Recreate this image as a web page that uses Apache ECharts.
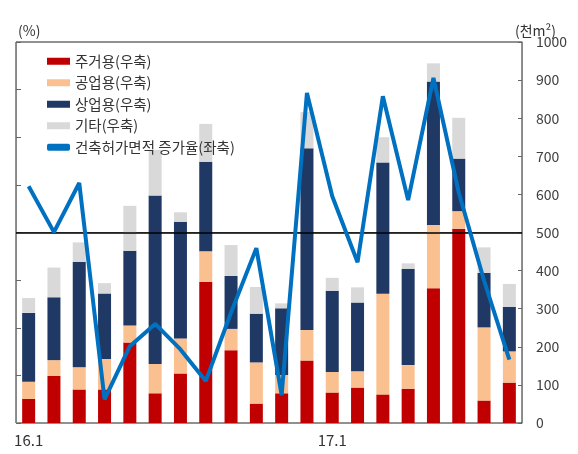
<!DOCTYPE html>
<html>
<head>
<meta charset="utf-8">
<script src="https://cdn.jsdelivr.net/npm/echarts@6/dist/echarts.min.js"></script>
<style>
  html, body { margin: 0; padding: 0; background: #fff; }
  #chart { width: 578px; height: 454px; }
</style>
</head>
<body>
<div id="chart"></div>
<script>
// 월별 데이터 (16.1 ~ 17.8)
var months = ['16.1','16.2','16.3','16.4','16.5','16.6','16.7','16.8','16.9','16.10','16.11','16.12',
              '17.1','17.2','17.3','17.4','17.5','17.6','17.7','17.8'];
// 용도별 건축허가면적 (천m², 우축)
var housing    = [63, 124, 88, 88, 211, 78, 130, 370, 191, 51, 78, 164, 80, 93, 75, 90, 354, 510, 59, 106];
var industrial = [45, 41, 58, 80, 45, 77, 92, 81, 56, 108, 48, 80, 54, 43, 264, 62, 166, 46, 192, 82];
var commercial = [181, 165, 277, 172, 196, 442, 306, 235, 139, 128, 175, 477, 213, 180, 345, 253, 376, 138, 143, 117];
var others     = [39, 78, 51, 27, 118, 120, 25, 99, 81, 70, 13, 95, 34, 40, 66, 14, 48, 107, 67, 60];
// 건축허가면적 증가율 (%, 좌축)
var growth = [24.3, 0.2, 26, -87.6, -59.7, -48, -61.4, -78, -42, -8.2, -85.4, 73.3,
              19, -15.6, 71.5, 17, 81.2, 21, -25.2, -66.7];

var font = 'Noto Sans CJK KR';
var chart = echarts.init(document.getElementById('chart'));

function barSeries(name, data, color) {
    return {
        name: name,
        type: 'bar',
        stack: 'area',
        yAxisIndex: 1,
        barWidth: 13,
        itemStyle: { color: color },
        data: data
    };
}

chart.setOption({
    animation: false,
    textStyle: { fontFamily: font },
    grid: {
        left: 16, right: 56, top: 42, bottom: 31,
        show: true, borderColor: '#222', borderWidth: 1
    },
    title: [
        { text: '(%)', left: 13, top: 19, textStyle: { fontSize: 14, fontWeight: 'normal', color: '#333', fontFamily: font } },
        { text: '(천m²)', left: 510, top: 19, textStyle: { fontSize: 14, fontWeight: 'normal', color: '#333', fontFamily: font } }
    ],
    legend: {
        orient: 'vertical',
        left: 47,
        top: 54,
        padding: 0,
        itemWidth: 23,
        itemHeight: 7,
        itemGap: 7,
        textStyle: { fontSize: 14.5, color: '#333', fontFamily: font },
        data: [
            { name: '주거용(우축)', icon: 'rect' },
            { name: '공업용(우축)', icon: 'rect' },
            { name: '상업용(우축)', icon: 'rect' },
            { name: '기타(우축)', icon: 'rect' },
            { name: '건축허가면적 증가율(좌축)', icon: 'roundRect', itemStyle: { color: '#0070C0' } }
        ]
    },
    xAxis: {
        type: 'category',
        data: months,
        axisLine: { lineStyle: { color: '#888' } },
        axisTick: { show: false },
        axisLabel: { interval: 11, margin: 10, fontSize: 15, color: '#333', fontFamily: font }
    },
    yAxis: [{
        type: 'value',
        min: -100, max: 100, interval: 25,
        axisLine: { show: true, lineStyle: { color: '#888' } },
        axisTick: { show: true, inside: true, length: 5, lineStyle: { color: '#666' } },
        axisLabel: { show: false },
        splitLine: { show: false }
    }, {
        type: 'value',
        min: 0, max: 1000, interval: 100,
        position: 'right',
        axisLine: { show: true, lineStyle: { color: '#888' } },
        axisTick: { show: true, inside: true, length: 4, lineStyle: { color: '#666' } },
        axisLabel: { margin: 14, fontSize: 14, color: '#404040', fontFamily: font,
                     formatter: function (v) { return String(v); } },
        splitLine: { show: false }
    }],
    series: [
        barSeries('주거용(우축)', housing, '#C00000'),
        barSeries('공업용(우축)', industrial, '#FAC090'),
        barSeries('상업용(우축)', commercial, '#1F3864'),
        barSeries('기타(우축)', others, '#D9D9D9'),
        {
            name: '건축허가면적 증가율(좌축)',
            type: 'line',
            yAxisIndex: 0,
            symbol: 'none',
            z: 5,
            lineStyle: { color: '#0070C0', width: 4 },
            itemStyle: { color: '#0070C0' },
            data: growth,
            markLine: {
                silent: true,
                symbol: 'none',
                label: { show: false },
                lineStyle: { color: '#000', width: 1.5, type: 'solid' },
                data: [{ yAxis: 0 }]
            }
        }
    ]
});
</script>
</body>
</html>
